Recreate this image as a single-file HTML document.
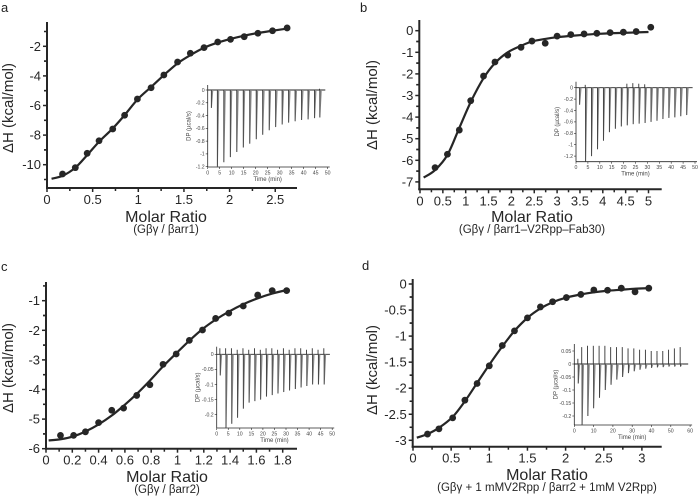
<!DOCTYPE html>
<html><head><meta charset="utf-8"><style>
html,body{margin:0;padding:0;background:#fff;}
svg{display:block;font-family:"Liberation Sans",Arial,sans-serif;}
</style></head><body>
<svg id="fig" width="699" height="498" viewBox="0 0 699 498" xmlns="http://www.w3.org/2000/svg">
<text x="1" y="12" font-size="13" fill="#222">a</text>
<text x="360" y="12" font-size="13" fill="#222">b</text>
<text x="1" y="271" font-size="13" fill="#222">c</text>
<text x="362" y="270" font-size="13" fill="#222">d</text>
</svg>
<script>
// ---- panel a data ----
const aX=[0.17,0.31,0.44,0.57,0.72,0.85,0.99,1.14,1.28,1.43,1.57,1.72,1.87,2.01,2.16,2.31,2.47,2.63];
const aY=[-10.63,-10.2,-9.23,-8.38,-7.59,-6.66,-5.56,-4.8,-3.94,-3.06,-2.47,-2.09,-1.71,-1.53,-1.35,-1.12,-0.95,-0.76];
const aFitX=[0.05,0.17,0.31,0.44,0.57,0.72,0.85,0.99,1.14,1.28,1.43,1.57,1.72,1.87,2.01,2.16,2.31,2.47,2.63];
const aFitY=[-10.95,-10.75,-10.2,-9.35,-8.45,-7.55,-6.65,-5.6,-4.75,-3.95,-3.15,-2.6,-2.1,-1.75,-1.5,-1.28,-1.1,-0.95,-0.8];
const aTicksX=["0","0.5","1","1.5","2","2.5"];
const aTicksY=["-2","-4","-6","-8","-10"];
const aInjT=[1.5,4,6.7,9.4,12.1,14.8,17.5,20.2,22.9,25.6,28.3,31,33.7,36.4,39.1,41.8,44.5,46.7];
const aInjD=[-0.28,-1.2,-1.13,-1.05,-0.97,-0.9,-0.84,-0.77,-0.7,-0.63,-0.58,-0.54,-0.51,-0.49,-0.47,-0.46,-0.44,-0.43];
const aInjP=[0,0,0,0,0,0,0,0,0,0,0,0,0,0,0,0,0,0.02];
// ---- panel b data ----
const bX=[0.33,0.6,0.86,1.11,1.39,1.64,1.92,2.21,2.45,2.74,3.0,3.3,3.59,3.87,4.16,4.45,4.73,5.05];
const bY=[-6.34,-5.72,-4.6,-3.24,-2.1,-1.45,-1.13,-0.77,-0.48,-0.58,-0.25,-0.18,-0.15,-0.12,-0.09,-0.07,-0.04,0.16];
const bFitX=[0.08,0.33,0.6,0.86,1.11,1.39,1.64,1.92,2.21,2.45,2.74,3.0,3.3,3.59,3.87,4.16,4.45,4.73,5.0];
const bFitY=[-6.8,-6.45,-5.75,-4.5,-3.3,-2.2,-1.5,-1.0,-0.7,-0.5,-0.38,-0.3,-0.24,-0.19,-0.15,-0.12,-0.1,-0.08,-0.06];
const bTicksX=["0","0.5","1","1.5","2","2.5","3","3.5","4","4.5","5"];
const bTicksY=["0","-1","-2","-3","-4","-5","-6","-7"];
const bInjT=[1.5,4,6.5,9,11.5,14,16.5,19,21.5,24,26.5,29,31.5,34,36.5,39,41.5,44,46.5];
const bInjD=[-0.3,-1.33,-1.2,-1.08,-0.93,-0.78,-0.72,-0.68,-0.66,-0.64,-0.63,-0.62,-0.6,-0.58,-0.55,-0.53,-0.52,-0.5,-0.48];
const bInjP=[0,0.05,0,0,0,0,0,0,0.07,0.08,0.07,0.06,0,0,0,0,0,0,0];
// ---- panel c data ----
const cX=[0.11,0.21,0.3,0.4,0.5,0.59,0.69,0.79,0.89,0.99,1.09,1.19,1.29,1.39,1.5,1.61,1.72,1.83];
const cY=[-5.55,-5.55,-5.43,-5.12,-4.7,-4.63,-4.2,-3.84,-3.15,-2.8,-2.34,-1.99,-1.6,-1.42,-1.18,-0.81,-0.66,-0.66];
const cFitX=[0.02,0.11,0.21,0.3,0.4,0.5,0.59,0.69,0.79,0.89,0.99,1.09,1.19,1.29,1.39,1.5,1.61,1.72,1.83];
const cFitY=[-5.72,-5.68,-5.58,-5.42,-5.18,-4.88,-4.55,-4.15,-3.7,-3.22,-2.78,-2.35,-1.96,-1.64,-1.37,-1.12,-0.92,-0.76,-0.64];
const cTicksX=["0","0.2","0.4","0.6","0.8","1","1.2","1.4","1.6","1.8"];
const cTicksY=["-1","-2","-3","-4","-5","-6"];
const cInjT=[1.5,4,6.5,9,11.5,14,16.5,19,21.5,24,26.5,29,31.5,34,36.5,39,41.5,44,46.5];
const cInjD=[-0.07,-0.245,-0.23,-0.21,-0.18,-0.16,-0.155,-0.15,-0.14,-0.135,-0.13,-0.125,-0.12,-0.115,-0.11,-0.105,-0.1,-0.1,-0.1];
const cInjP=[0.02,0.02,0.02,0.015,0.02,0.015,0.02,0.015,0.02,0.02,0.015,0.02,0.015,0.02,0.02,0.015,0.02,0.015,0.02];
// ---- panel d data ----
const dX=[0.19,0.34,0.52,0.68,0.84,1.0,1.17,1.33,1.5,1.67,1.83,2.01,2.2,2.37,2.55,2.73,2.91,3.09];
const dY=[-2.88,-2.78,-2.57,-2.23,-1.91,-1.57,-1.18,-0.9,-0.65,-0.44,-0.34,-0.26,-0.2,-0.115,-0.12,-0.08,-0.15,-0.08];
const dFitX=[0.05,0.19,0.34,0.52,0.68,0.84,1.0,1.17,1.33,1.5,1.67,1.83,2.01,2.2,2.37,2.55,2.73,2.91,3.09];
const dFitY=[-2.95,-2.88,-2.76,-2.55,-2.25,-1.9,-1.55,-1.2,-0.9,-0.65,-0.47,-0.35,-0.26,-0.2,-0.16,-0.13,-0.11,-0.09,-0.08];
const dTicksX=["0","0.5","1","1.5","2","2.5","3"];
const dTicksY=["0","-0.5","-1","-1.5","-2","-2.5","-3"];
const dInjT=[2,4,7,10,13,16,19,22,25,28,31,34,37,40,43,46,49,52,55];
const dInjD=[-0.075,-0.24,-0.2,-0.17,-0.13,-0.1,-0.08,-0.06,-0.05,-0.035,-0.028,-0.022,-0.018,-0.015,-0.013,-0.012,-0.01,-0.01,-0.01];
const dInjP=[0.02,0.065,0.07,0.07,0.07,0.07,0.065,0.065,0.065,0.06,0.06,0.055,0.055,0.05,0.05,0.05,0.055,0.06,0.065];

const NS="http://www.w3.org/2000/svg";
const svg=document.getElementById('fig');
const INK="#262626";
function el(tag,attrs,parent){const e=document.createElementNS(NS,tag);for(const k in attrs)e.setAttribute(k,attrs[k]);(parent||svg).appendChild(e);return e;}

function smoothPath(pts){
  let d="M"+pts[0][0].toFixed(2)+","+pts[0][1].toFixed(2);
  for(let i=0;i<pts.length-1;i++){
    const p0=pts[Math.max(0,i-1)],p1=pts[i],p2=pts[i+1],p3=pts[Math.min(pts.length-1,i+2)];
    const c1=[p1[0]+(p2[0]-p0[0])/6,p1[1]+(p2[1]-p0[1])/6];
    const c2=[p2[0]-(p3[0]-p1[0])/6,p2[1]-(p3[1]-p1[1])/6];
    d+=" C"+c1.map(v=>v.toFixed(2))+" "+c2.map(v=>v.toFixed(2))+" "+p2[0].toFixed(2)+","+p2[1].toFixed(2);
  }
  return d;
}

function drawMain(c){
  const g=el('g',{});
  
  
  const sx=v=>c.x0+v*c.kx, sy=v=>c.y0-(v-c.yref)*c.ky;
  const ya=el('line',{x1:c.axX,y1:c.top,x2:c.axX,y2:c.axY+1,stroke:INK,'stroke-width':2},g);
  
  
  const xa=el('line',{x1:c.axX-1,y1:c.axY,x2:c.right,y2:c.axY,stroke:INK,'stroke-width':2},g);
  
  
  c.ticksY.forEach(t=>{const v=parseFloat(t),y=sy(v);
    el('line',{x1:c.axX-4,y1:y,x2:c.axX,y2:y,stroke:INK,'stroke-width':1.5},g);
    const tx=el('text',{x:c.axX-6,y:y+4.5,'font-size':13,'text-anchor':'end',fill:INK},g);tx.textContent=t;
    
    
    const m=sy(v-c.yStep/2); if(m<c.axY-2) el('line',{x1:c.axX-3,y1:m,x2:c.axX,y2:m,stroke:INK,'stroke-width':1.5},g);
    const m2=sy(v+c.yStep/2); if(m2>c.top+2) el('line',{x1:c.axX-3,y1:m2,x2:c.axX,y2:m2,stroke:INK,'stroke-width':1.5},g);
  });
  c.ticksX.forEach(t=>{const v=parseFloat(t),x=sx(v);
    el('line',{x1:x,y1:c.axY,x2:x,y2:c.axY+4,stroke:INK,'stroke-width':1.5},g);
    const tx=el('text',{x:x,y:c.axY+16,'font-size':13,'text-anchor':'middle',fill:INK},g);tx.textContent=t;
    
    
    const m=sx(v+c.xStep/2); if(m<c.right-2) el('line',{x1:m,y1:c.axY,x2:m,y2:c.axY+3,stroke:INK,'stroke-width':1.5},g);
  });
  const pts=c.fitX.map((v,i)=>[sx(v),sy(c.fitY[i])]);
  const fp=el('path',{d:smoothPath(pts),fill:'none',stroke:INK,'stroke-width':2.2},g);
  
  
  c.xs.forEach((v,i)=>{const p=el('circle',{cx:sx(v),cy:sy(c.ys[i]),r:3.4,fill:INK},g);
    
    });
  const yt=el('text',{x:0,y:0,'font-size':15,'text-anchor':'middle',fill:INK,transform:`translate(${c.ytX},${c.ytY}) rotate(-90)`},g);
  yt.textContent="ΔH (kcal/mol)";
  
  
  const xt=el('text',{x:c.xtX,y:c.xtY,'font-size':16,'text-anchor':'middle',fill:INK},g);
  xt.textContent="Molar Ratio";
  
  
  const st=el('text',{x:c.xtX,y:c.xtY+11,'font-size':11.5,'text-anchor':'middle',fill:INK},g);
  st.textContent=c.sub;
  
  
}

function drawInset(c){
  const g=el('g',{});
  
  
  const sx=t=>c.x0+t*c.kx, sy=v=>c.y0-v*c.ky;
  el('line',{x1:c.x0,y1:c.top,x2:c.x0,y2:c.bottom,stroke:INK,'stroke-width':0.8},g);
  el('line',{x1:c.x0,y1:c.bottom,x2:sx(c.tMax)+2,y2:c.bottom,stroke:INK,'stroke-width':0.8},g);
  c.yTicks.forEach(t=>{const y=sy(parseFloat(t));
    el('line',{x1:c.x0-2,y1:y,x2:c.x0,y2:y,stroke:INK,'stroke-width':0.6},g);
    const tx=el('text',{x:c.x0-3,y:y+1.8,'font-size':5.2,'text-anchor':'end',fill:'#444'},g);tx.textContent=t;
    
    });
  for(let t=0;t<=c.tMax;t+=c.tStep){const x=sx(t);
    el('line',{x1:x,y1:c.bottom,x2:x,y2:c.bottom+2,stroke:INK,'stroke-width':0.6},g);
    const tx=el('text',{x:x,y:c.bottom+7.5,'font-size':5.2,'text-anchor':'middle',fill:'#444'},g);tx.textContent=String(t);
    
    }
  const xt=el('text',{x:sx(c.tMax/2),y:c.bottom+14,'font-size':6,'text-anchor':'middle',fill:'#444'},g);xt.textContent="Time (min)";
  
  
  const yt=el('text',{x:0,y:0,'font-size':6,'text-anchor':'middle',fill:'#444',transform:`translate(${c.x0-17},${(c.top+c.bottom)/2}) rotate(-90)`},g);yt.textContent="DP (µcal/s)";
  
  
  el('line',{x1:c.x0,y1:sy(0),x2:sx(c.tMax-1),y2:sy(0),stroke:INK,'stroke-width':0.9},g);
  c.t.forEach((t,i)=>{const x=sx(t),y=Math.min(sy(c.d[i]),c.bottom);
    const s=el('path',{d:`M${x-0.3},${sy(0)} L${x},${y} L${x+0.6},${y} L${x+2},${sy(0)} Z`,fill:'#888',stroke:'none'},g);
    
    
    el('line',{x1:x,y1:sy(0),x2:x,y2:y,stroke:'#333','stroke-width':0.8},g);
    if(c.p[i]>0){el('line',{x1:x-0.3,y1:sy(0),x2:x-0.3,y2:sy(c.p[i]),stroke:'#333','stroke-width':0.9},g);}
  });
}

drawMain({id:'a',axX:47,x0:47,kx:91.3,y0:46.3,yref:-2,ky:14.8,axY:188,top:22,right:297,ticksX:aTicksX,ticksY:aTicksY,xStep:0.5,yStep:2,xs:aX,ys:aY,fitX:aFitX,fitY:aFitY,ytX:13,ytY:108,xtX:166,xtY:222,sub:"(Gβγ / βarr1)"});
drawMain({id:'b',axX:419.3,x0:420,kx:45.7,y0:30.7,yref:0,ky:21.6,axY:189.3,top:20,right:661.7,ticksX:bTicksX,ticksY:bTicksY,xStep:0.5,yStep:1,xs:bX,ys:bY,fitX:bFitX,fitY:bFitY,ytX:377,ytY:105,xtX:532,xtY:222,sub:"(Gβγ / βarr1–V2Rpp–Fab30)"});
drawMain({id:'c',axX:46,x0:46,kx:131.5,y0:300.7,yref:-1,ky:29.6,axY:448.7,top:282,right:297,ticksX:cTicksX,ticksY:cTicksY,xStep:0.2,yStep:1,xs:cX,ys:cY,fitX:cFitX,fitY:cFitY,ytX:13,ytY:368,xtX:167,xtY:482,sub:"(Gβγ / βarr2)"});
drawMain({id:'d',axX:412.7,x0:413,kx:76.3,y0:284,yref:0,ky:52.1,axY:446.7,top:279,right:661.7,ticksX:dTicksX,ticksY:dTicksY,xStep:0.5,yStep:0.5,xs:dX,ys:dY,fitX:dFitX,fitY:dFitY,ytX:377,ytY:370,xtX:547,xtY:480,sub:"(Gβγ + 1 mMV2Rpp / βarr2 + 1mM V2Rpp)"});

drawInset({id:'a',x0:207.7,kx:2.4,y0:90,ky:63.9,top:85,bottom:167,tMax:50,tStep:5,yTicks:["0","-0.2","-0.4","-0.6","-0.8","-1","-1.2"],t:aInjT,d:aInjD,p:aInjP});
drawInset({id:'b',x0:576,kx:2.38,y0:87.7,ky:57,top:81.7,bottom:161.7,tMax:50,tStep:5,yTicks:["0","-0.2","-0.4","-0.6","-0.8","-1","-1.2"],t:bInjT,d:bInjD,p:bInjP});
drawInset({id:'c',x0:216.7,kx:2.31,y0:354.3,ky:302,top:346.7,bottom:428,tMax:50,tStep:5,yTicks:["0","-0.05","-0.1","-0.15","-0.2"],t:cInjT,d:cInjD,p:cInjP});
drawInset({id:'d',x0:574.3,kx:1.93,y0:364,ky:260,top:344,bottom:425,tMax:60,tStep:10,yTicks:["0.05","0","-0.05","-0.1","-0.15","-0.2"],t:dInjT,d:dInjD,p:dInjP});
</script>
</body></html>
